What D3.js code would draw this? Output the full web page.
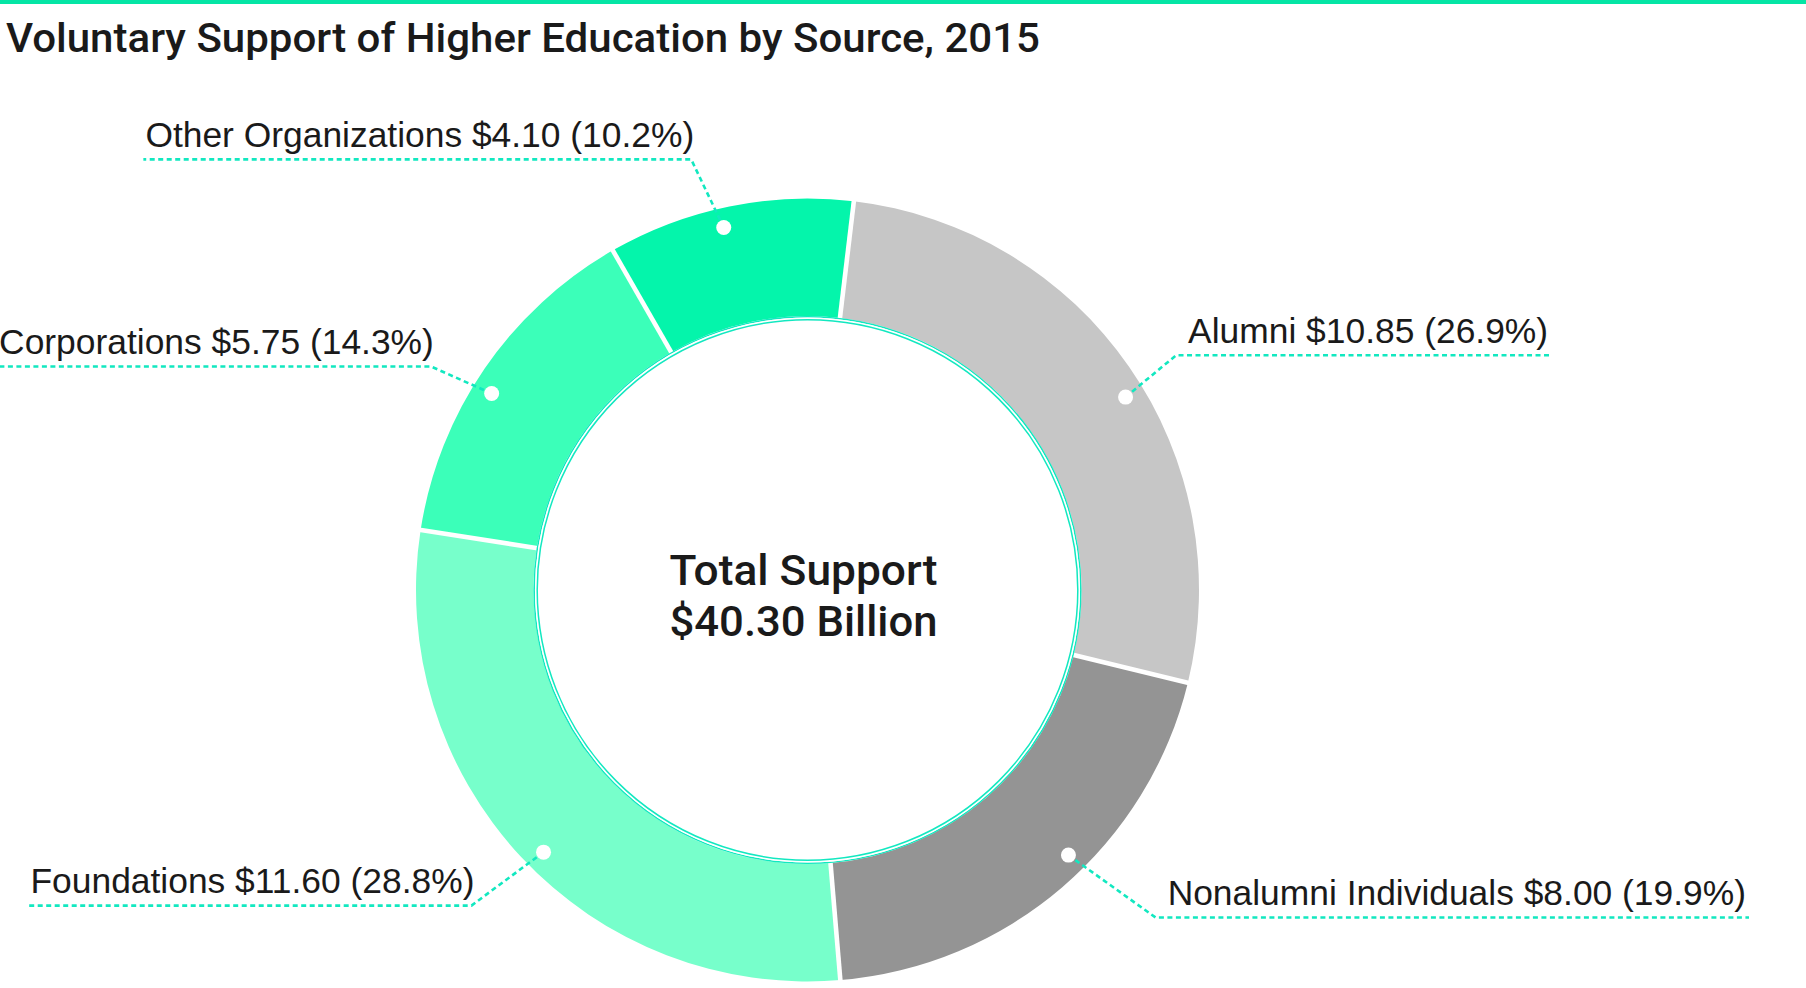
<!DOCTYPE html>
<html>
<head>
<meta charset="utf-8">
<script src="https://cdn.jsdelivr.net/npm/d3@7"></script>
<style>
  html, body { margin: 0; padding: 0; background: #ffffff; }
  svg { display: block; }
</style>
</head>
<body>
<svg id="chart" width="1806" height="988"></svg>
<script>
// ---------------- DATA ----------------
const title = "Voluntary Support of Higher Education by Source, 2015";
const categories = ["Alumni", "Nonalumni Individuals", "Foundations", "Corporations", "Other Organizations"];
const values = [10.85, 8.00, 11.60, 5.75, 4.10];
const percents = [26.9, 19.9, 28.8, 14.3, 10.2];
const totalLabel = ["Total Support", "$40.30 Billion"];

// ---------------- STYLE / LAYOUT ----------------
const colors = ["#c6c6c6", "#949494", "#77ffcb", "#3bffb9", "#04f5ab"];
const accent = "#05e5a5";
const leaderColor = "#12e8c0";
const W = 1806, H = 988;
const cx = 807.5, cy = 590;
const outerR = 391.5, innerR = 274;
const startDeg = 6.8;
// per-slice label placement tweaks (layout only)
const dotShiftDeg = [3.5, -4, -1.8, -2.6, -1.5];
const elbowShiftDeg = [2.25, -6.2, -0.2, -3.8, -3.6];
const elbowR = [437, 478, 461, 438, 446];
const dotR = 372;

const svg = d3.select("#chart");

// top accent bar
svg.append("rect").attr("x", 0).attr("y", 0).attr("width", W).attr("height", 4).attr("fill", accent);

// title
svg.append("text")
  .attr("x", 6).attr("y", 52)
  .attr("font-family", "Roboto, 'Liberation Sans', Arial, sans-serif")
  .attr("font-weight", 500)
  .attr("font-size", 41)
  .attr("fill", "#1a1a1a")
  .attr("textLength", 1034)
  .attr("lengthAdjust", "spacingAndGlyphs")
  .text(title);

// pie
const a0 = startDeg * Math.PI / 180;
const pie = d3.pie().sort(null).value(d => d).startAngle(a0).endAngle(a0 + 2 * Math.PI);
const arcs = pie(values);
const arc = d3.arc().innerRadius(innerR).outerRadius(outerR);

const g = svg.append("g").attr("transform", `translate(${cx},${cy})`);

g.selectAll("path.slice").data(arcs).join("path")
  .attr("class", "slice")
  .attr("d", arc)
  .attr("fill", (d, i) => colors[i]);

// white separators
g.selectAll("line.sep").data(arcs).join("line")
  .attr("class", "sep")
  .attr("x1", d => (innerR - 1) * Math.sin(d.startAngle))
  .attr("y1", d => -(innerR - 1) * Math.cos(d.startAngle))
  .attr("x2", d => (outerR + 3) * Math.sin(d.startAngle))
  .attr("y2", d => -(outerR + 3) * Math.cos(d.startAngle))
  .attr("stroke", "#fff").attr("stroke-width", 4.6);

// inner double ring
g.append("circle").attr("r", innerR - 0.7).attr("fill", "none").attr("stroke", leaderColor).attr("stroke-width", 1.5);
g.append("circle").attr("r", innerR - 2.2).attr("fill", "none").attr("stroke", "#fff").attr("stroke-width", 1.5);
g.append("circle").attr("r", innerR - 3.7).attr("fill", "none").attr("stroke", leaderColor).attr("stroke-width", 1.5);

// center text
g.selectAll("text.center").data(totalLabel).join("text")
  .attr("class", "center")
  .attr("x", -4)
  .attr("y", (d, i) => -5 + i * 51)
  .attr("text-anchor", "middle")
  .attr("font-family", "Roboto, 'Liberation Sans', Arial, sans-serif")
  .attr("font-weight", 500)
  .attr("font-size", 42)
  .attr("fill", "#1a1a1a")
  .attr("textLength", 268)
  .attr("lengthAdjust", "spacingAndGlyphs")
  .text(d => d);

// labels with leader lines
const fmt = d3.format(".2f");
const labelFont = "'Liberation Sans', Arial, Helvetica, sans-serif";
const toRad = Math.PI / 180;
arcs.forEach((d, i) => {
  const mid = (d.startAngle + d.endAngle) / 2;
  const da = mid + dotShiftDeg[i] * toRad;
  const ea = mid + elbowShiftDeg[i] * toRad;
  const dx = dotR * Math.sin(da), dy = -dotR * Math.cos(da);
  const ex = elbowR[i] * Math.sin(ea), ey = -elbowR[i] * Math.cos(ea);
  const right = ex > 0;
  const label = `${categories[i]} $${fmt(values[i])} (${percents[i].toFixed(1)}%)`;

  const txt = g.append("text")
    .attr("font-family", labelFont)
    .attr("font-size", 35.4)
    .attr("fill", "#1a1a1a")
    .attr("y", ey - 12.5)
    .text(label);
  let lineEnd;
  if (right) {
    txt.attr("x", ex + 12).attr("text-anchor", "start");
    const w = txt.node().getComputedTextLength();
    lineEnd = ex + 12 + w + 3;
  } else {
    txt.attr("x", ex + 3).attr("text-anchor", "end");
    const w = txt.node().getComputedTextLength();
    lineEnd = ex + 3 - w - 2;
  }
  g.append("path")
    .attr("d", `M${dx},${dy}L${ex},${ey}L${lineEnd},${ey}`)
    .attr("fill", "none")
    .attr("stroke", leaderColor)
    .attr("stroke-width", 2.6)
    .attr("stroke-dasharray", "5,3.5");
  g.append("circle").attr("cx", dx).attr("cy", dy).attr("r", 7.5).attr("fill", "#fff");
});
</script>
</body>
</html>
